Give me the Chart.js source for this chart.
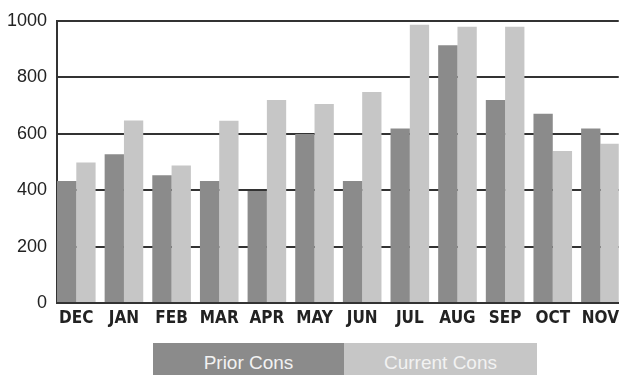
<!DOCTYPE html>
<html>
<head>
<meta charset="utf-8">
<script src="https://cdn.jsdelivr.net/npm/chart.js@4.4.1/dist/chart.umd.min.js"></script>
<style>
  html, body { margin: 0; padding: 0; background: #fff; overflow: hidden; }
  #wrap { position: relative; width: 624px; height: 375px; }
  #consChart { display: block; }
  #legend { position: absolute; left: 153px; top: 343px; display: flex; }
  .item { height: 32px; text-align: center; color: #f2f2f2;
          font: 19px 'Liberation Sans', Arial, sans-serif; line-height: 39px; }
</style>
</head>
<body>
<div id="wrap">
  <canvas id="consChart" width="624" height="375"></canvas>
  <div id="legend"></div>
</div>
<script>
// Data
const months = ['DEC', 'JAN', 'FEB', 'MAR', 'APR', 'MAY', 'JUN', 'JUL', 'AUG', 'SEP', 'OCT', 'NOV'];
const priorCons = [432, 527, 453, 432, 397, 599, 432, 618, 913, 719, 671, 618];
const currentCons = [498, 647, 487, 646, 719, 705, 748, 986, 979, 979, 539, 564];
const yTicks = [0, 200, 400, 600, 800, 1000];
const seriesNames = ['Prior Cons', 'Current Cons'];
const seriesColors = ['#8b8b8b', '#c6c6c6'];

const toPoints = arr => arr.map((v, i) => ({ x: i, y: v }));

const ctx = document.getElementById('consChart').getContext('2d');
const chart = new Chart(ctx, {
    type: 'bar',
    data: {
        datasets: [
            { label: seriesNames[0], data: toPoints(priorCons), backgroundColor: seriesColors[0] },
            { label: seriesNames[1], data: toPoints(currentCons), backgroundColor: seriesColors[1] }
        ]
    },
    options: {
        responsive: false,
        animation: false,
        categoryPercentage: 0.81,
        barPercentage: 1,
        borderWidth: 0,
        layout: { padding: { top: 16, right: 0, left: 0, bottom: 42 } },
        scales: {
            x: {
                type: 'linear',
                offset: false,
                min: -0.405,
                max: 11.385,
                grid: { display: false, drawTicks: false },
                border: { display: true, color: '#333', width: 2 },
                afterFit: s => { s.height = 30; },
                ticks: {
                    stepSize: 1,
                    includeBounds: false,
                    autoSkip: false,
                    maxRotation: 0,
                    padding: 5,
                    color: '#222',
                    font: { family: "'DejaVu Sans Condensed', 'Liberation Sans', sans-serif", size: 17, weight: 'bold' },
                    callback: v => months[v] || ''
                }
            },
            y: {
                min: 0,
                max: 1000,
                afterFit: s => { s.width = 57; },
                afterBuildTicks: s => { s.ticks = yTicks.map(v => ({ value: v })); },
                grid: { color: '#333', lineWidth: 2, drawTicks: false },
                border: { display: true, color: '#333', width: 2 },
                ticks: {
                    padding: 10,
                    color: '#222',
                    font: { family: "'Liberation Sans', Arial, sans-serif", size: 18 },
                    callback: v => String(v)
                }
            }
        },
        plugins: { legend: { display: false }, tooltip: { enabled: false } }
    }
});

// Box legend under the plot
const legend = document.getElementById('legend');
const widths = [191, 193];
chart.data.datasets.forEach((ds, i) => {
    const d = document.createElement('div');
    d.className = 'item';
    d.style.width = widths[i] + 'px';
    d.style.background = ds.backgroundColor;
    d.textContent = ds.label;
    legend.appendChild(d);
});
</script>
</body>
</html>
